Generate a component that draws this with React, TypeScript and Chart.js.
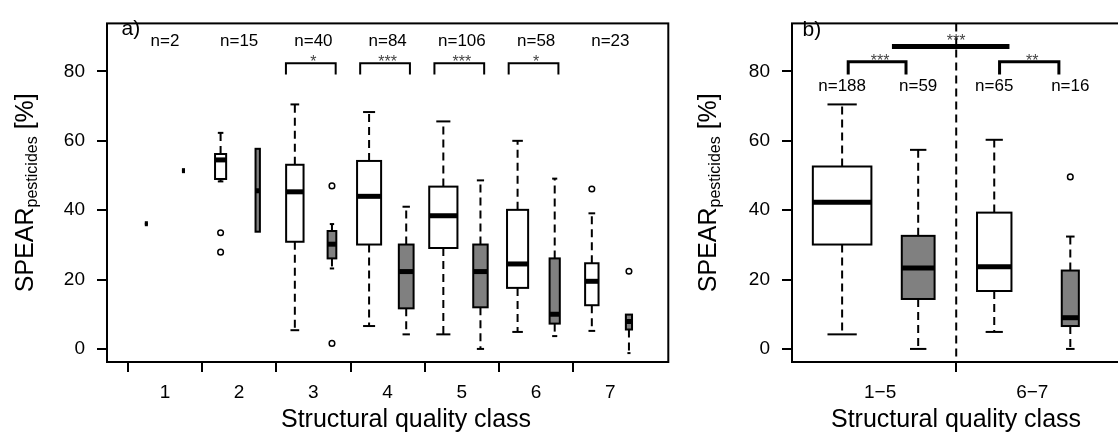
import React, { useEffect, useRef } from 'react';
import { Chart, registerables } from 'chart.js';

Chart.register(...registerables);

const FONT = '"Liberation Sans", Arial, Helvetica, sans-serif';

// ---------- Panel a: by structural quality class ----------
const classLabels = ['1', '2', '3', '4', '5', '6', '7'];
const classCounts = [2, 15, 40, 84, 106, 58, 23];
const classSig = ['', '', '*', '***', '***', '*', ''];

// white boxes (first box of each class)
const whiteLow = [36.1, 48.3, 5.4, 6.6, 4.2, 4.9, 5.2];
const whiteQ1 = [36.1, 49.0, 30.9, 30.1, 29.1, 17.6, 12.6];
const whiteMed = [36.1, 54.5, 45.3, 44.0, 38.4, 24.5, 19.5];
const whiteQ3 = [36.1, 56.2, 53.1, 54.2, 46.8, 40.1, 24.7];
const whiteHigh = [36.1, 62.3, 70.5, 68.3, 65.6, 60.0, 39.1];
const whiteN = [1, 13, 32, 61, 84, 47, 19];
const whiteOut: number[][] = [[], [33.5, 27.9], [], [], [], [], [46.1]];

// gray boxes (second box of each class)
const grayLow = [51.4, 33.8, 23.2, 4.2, 0.0, 3.7, -1.2];
const grayQ1 = [51.4, 33.8, 26.1, 11.7, 12.0, 7.3, 5.6];
const grayMed = [51.4, 45.6, 30.2, 22.3, 22.3, 10.0, 7.9];
const grayQ3 = [51.4, 57.7, 34.0, 30.1, 30.1, 26.1, 9.9];
const grayHigh = [51.4, 57.7, 36.0, 41.0, 48.6, 49.1, 9.9];
const grayN = [1, 2, 8, 23, 22, 11, 4];
const grayOut: number[][] = [[], [], [47.0, 1.6], [], [], [], [22.4]];

// ---------- Panel b: grouped classes ----------
const groupLabels = ['1−5', '6−7'];
const bCounts = [188, 59, 65, 16];
const bLow = [4.2, 0.0, 4.9, 0.0];
const bQ1 = [30.1, 14.4, 16.7, 6.6];
const bMed = [42.3, 23.3, 23.7, 9.0];
const bQ3 = [52.6, 32.6, 39.3, 22.6];
const bHigh = [70.5, 57.4, 60.3, 32.4];
const bOut: number[][] = [[], [], [], [49.6]];
const bSigWithin = ['***', '**'];
const bSigBetween = '***';

const yTicks = [0, 20, 40, 60, 80];
const Y_MIN = -3.77;
const Y_MAX = 93.86;

const WHITE = '#ffffff';
const GRAY = '#808080';

type Box = { pos: number; low: number; q1: number; med: number; q3: number; high: number; n: number; fill: string };

function line(ctx: CanvasRenderingContext2D, x1: number, y1: number, x2: number, y2: number) {
  ctx.beginPath();
  ctx.moveTo(x1, y1);
  ctx.lineTo(x2, y2);
  ctx.stroke();
}

function drawBox(ctx: CanvasRenderingContext2D, xs: any, ys: any, b: Box, wex: number, nMax: number) {
  const xc = xs.getPixelForValue(b.pos);
  const w = wex * Math.sqrt(b.n / nMax);
  const hw = Math.abs(xs.getPixelForValue(b.pos + w / 2) - xc);
  const yLow = ys.getPixelForValue(b.low);
  const yQ1 = ys.getPixelForValue(b.q1);
  const yMed = ys.getPixelForValue(b.med);
  const yQ3 = ys.getPixelForValue(b.q3);
  const yHigh = ys.getPixelForValue(b.high);
  ctx.save();
  ctx.strokeStyle = '#000';
  ctx.lineWidth = 2;
  ctx.lineCap = 'butt';
  ctx.setLineDash([8, 5]);
  if (b.high > b.q3) line(ctx, xc, yQ3, xc, yHigh);
  if (b.low < b.q1) line(ctx, xc, yQ1, xc, yLow);
  ctx.setLineDash([]);
  if (b.high > b.q3) line(ctx, xc - hw / 2, yHigh, xc + hw / 2, yHigh);
  if (b.low < b.q1) line(ctx, xc - hw / 2, yLow, xc + hw / 2, yLow);
  ctx.fillStyle = b.fill;
  ctx.fillRect(xc - hw, yQ3, 2 * hw, yQ1 - yQ3);
  ctx.strokeRect(xc - hw, yQ3, 2 * hw, yQ1 - yQ3);
  ctx.lineWidth = 5;
  line(ctx, xc - hw, yMed, xc + hw, yMed);
  ctx.restore();
}

function drawYTitle(ctx: CanvasRenderingContext2D, baseX: number, centerY: number) {
  ctx.save();
  ctx.fillStyle = '#000';
  ctx.textBaseline = 'alphabetic';
  ctx.textAlign = 'left';
  const big = `25px ${FONT}`;
  const small = `16px ${FONT}`;
  ctx.font = big;
  const w1 = ctx.measureText('SPEAR').width;
  const w3 = ctx.measureText(' [%]').width;
  ctx.font = small;
  const w2 = ctx.measureText('pesticides').width;
  const L = w1 + w2 + w3;
  ctx.translate(baseX, centerY);
  ctx.rotate(-Math.PI / 2);
  ctx.font = big;
  ctx.fillText('SPEAR', -L / 2, 0);
  ctx.font = small;
  ctx.fillText('pesticides', -L / 2 + w1, 4);
  ctx.font = big;
  ctx.fillText(' [%]', -L / 2 + w1 + w2, 0);
  ctx.restore();
}

function bracket(ctx: CanvasRenderingContext2D, xs: any, ys: any, x1: number, x2: number, top: number, bottom: number, lw: number) {
  const px1 = xs.getPixelForValue(x1);
  const px2 = xs.getPixelForValue(x2);
  const pt = ys.getPixelForValue(top);
  const pb = ys.getPixelForValue(bottom);
  ctx.save();
  ctx.strokeStyle = '#000';
  ctx.lineWidth = lw;
  ctx.lineJoin = 'miter';
  ctx.beginPath();
  ctx.moveTo(px1, pb);
  ctx.lineTo(px1, pt);
  ctx.lineTo(px2, pt);
  ctx.lineTo(px2, pb);
  ctx.stroke();
  ctx.restore();
  return pt;
}

function frame(ctx: CanvasRenderingContext2D, area: any) {
  ctx.save();
  ctx.strokeStyle = '#000';
  ctx.lineWidth = 2;
  ctx.strokeRect(area.left, area.top, area.right - area.left, area.bottom - area.top);
  ctx.restore();
}

function text(ctx: CanvasRenderingContext2D, s: string, x: number, y: number, size: number, align: CanvasTextAlign = 'center', color = '#000') {
  ctx.save();
  ctx.font = `${size}px ${FONT}`;
  ctx.fillStyle = color;
  ctx.textAlign = align;
  ctx.textBaseline = 'alphabetic';
  ctx.fillText(s, x, y);
  ctx.restore();
}

const yScaleBase = (width: number) => ({
  min: Y_MIN,
  max: Y_MAX,
  afterBuildTicks: (s: any) => {
    s.ticks = yTicks.map((v) => ({ value: v }));
  },
  afterFit: (s: any) => {
    s.width = width;
  },
  border: { display: false },
  grid: { drawOnChartArea: false, drawTicks: true, tickLength: 10, lineWidth: 2, color: '#000' },
  ticks: { font: { family: FONT, size: 19 }, color: '#000', padding: 12 },
});

function configA(): any {
  const boxes: Box[] = [];
  classLabels.forEach((_, i) => {
    boxes.push({ pos: i + 1 - 0.25, low: whiteLow[i], q1: whiteQ1[i], med: whiteMed[i], q3: whiteQ3[i], high: whiteHigh[i], n: whiteN[i], fill: WHITE });
    boxes.push({ pos: i + 1 + 0.25, low: grayLow[i], q1: grayQ1[i], med: grayMed[i], q3: grayQ3[i], high: grayHigh[i], n: grayN[i], fill: GRAY });
  });
  const nMax = Math.max(...whiteN, ...grayN);
  const outliers: { x: number; y: number }[] = [];
  whiteOut.forEach((arr, i) => arr.forEach((v) => outliers.push({ x: i + 1 - 0.25, y: v })));
  grayOut.forEach((arr, i) => arr.forEach((v) => outliers.push({ x: i + 1 + 0.25, y: v })));
  const xTickVals: number[] = [];
  for (let v = 0.5; v <= 7; v += 0.5) xTickVals.push(v);

  const plugin = {
    id: 'boxA',
    beforeDatasetsDraw(chart: any) {
      const ctx = chart.ctx;
      const xs = chart.scales.x;
      const ys = chart.scales.y;
      boxes.forEach((b) => drawBox(ctx, xs, ys, b, 0.38, nMax));
    },
    afterDatasetsDraw(chart: any) {
      const ctx = chart.ctx;
      const xs = chart.scales.x;
      const ys = chart.scales.y;
      const area = chart.chartArea;
      frame(ctx, area);
      text(ctx, 'a)', area.left + 14.5, 35, 21, 'left');
      classCounts.forEach((n, i) => {
        text(ctx, `n=${n}`, xs.getPixelForValue(i + 1), ys.getPixelForValue(87.4), 17);
      });
      classSig.forEach((s, i) => {
        if (!s) return;
        const pt = bracket(ctx, xs, ys, i + 1 - 0.37, i + 1 + 0.3, 82.4, 79.1, 2);
        text(ctx, s, xs.getPixelForValue(i + 1), pt + 4, 16, 'center', '#444');
      });
      drawYTitle(ctx, 33, (area.top + area.bottom) / 2);
      text(ctx, 'Structural quality class', 406, 427, 25);
    },
  };

  return {
    type: 'scatter',
    data: {
      datasets: [
        {
          data: outliers,
          pointRadius: 2.8,
          pointBorderWidth: 1.5,
          pointBorderColor: '#000',
          pointBackgroundColor: 'rgba(0,0,0,0)',
          showLine: false,
        },
      ],
    },
    options: {
      responsive: false,
      animation: false,
      layout: { padding: { left: 0, top: 12, right: 11.7, bottom: 0 } },
      plugins: { legend: { display: false }, tooltip: { enabled: false } },
      scales: {
        x: {
          type: 'linear',
          min: 0.22,
          max: 7.78,
          afterBuildTicks: (s: any) => {
            s.ticks = xTickVals.map((v) => ({ value: v }));
          },
          afterFit: (s: any) => {
            s.height = 70;
          },
          border: { display: false },
          grid: {
            drawOnChartArea: false,
            drawTicks: true,
            tickLength: 10,
            lineWidth: 2,
            color: (c: any) => (c.tick && Number.isInteger(c.tick.value) ? 'rgba(0,0,0,0)' : '#000'),
          },
          ticks: {
            autoSkip: false,
            maxRotation: 0,
            font: { family: FONT, size: 19 },
            color: '#000',
            padding: 9,
            callback: (v: number) => (Number.isInteger(v) ? classLabels[v - 1] : ''),
          },
        },
        y: yScaleBase(107),
      },
    },
    plugins: [plugin],
  };
}

function configB(): any {
  const boxes: Box[] = bCounts.map((n, i) => ({
    pos: i + 1,
    low: bLow[i],
    q1: bQ1[i],
    med: bMed[i],
    q3: bQ3[i],
    high: bHigh[i],
    n,
    fill: i % 2 === 0 ? WHITE : GRAY,
  }));
  const nMax = Math.max(...bCounts);
  const outliers: { x: number; y: number }[] = [];
  bOut.forEach((arr, i) => arr.forEach((v) => outliers.push({ x: i + 1, y: v })));

  const plugin = {
    id: 'boxB',
    beforeDatasetsDraw(chart: any) {
      const ctx = chart.ctx;
      const xs = chart.scales.x;
      const ys = chart.scales.y;
      const area = chart.chartArea;
      // dashed separator between groups
      ctx.save();
      ctx.strokeStyle = '#000';
      ctx.lineWidth = 2;
      ctx.setLineDash([8, 5]);
      const xm = xs.getPixelForValue(2.5);
      line(ctx, xm, area.top, xm, area.bottom);
      ctx.restore();
      boxes.forEach((b) => drawBox(ctx, xs, ys, b, 0.77, nMax));
    },
    afterDatasetsDraw(chart: any) {
      const ctx = chart.ctx;
      const xs = chart.scales.x;
      const ys = chart.scales.y;
      const area = chart.chartArea;
      frame(ctx, area);
      text(ctx, 'b)', area.left + 10.5, 36, 21, 'left');
      bCounts.forEach((n, i) => {
        text(ctx, `n=${n}`, xs.getPixelForValue(i + 1), ys.getPixelForValue(74.4), 17);
      });
      const p1 = bracket(ctx, xs, ys, 1.08, 1.84, 82.8, 79.1, 3);
      text(ctx, bSigWithin[0], xs.getPixelForValue(1.5), p1 + 4.6, 16, 'center', '#444');
      const p2 = bracket(ctx, xs, ys, 3.07, 3.85, 82.8, 79.1, 3);
      text(ctx, bSigWithin[1], xs.getPixelForValue(3.5), p2 + 4.6, 16, 'center', '#444');
      // thick between-group bar
      ctx.save();
      ctx.strokeStyle = '#000';
      ctx.lineWidth = 5;
      const yb = ys.getPixelForValue(87.2);
      line(ctx, xs.getPixelForValue(1.655), yb, xs.getPixelForValue(3.2), yb);
      ctx.restore();
      text(ctx, bSigBetween, xs.getPixelForValue(2.5), yb - 0.5, 16, 'center', '#444');
      drawYTitle(ctx, 716 - 680, (area.top + area.bottom) / 2);
      text(ctx, 'Structural quality class', 956 - 680, 427, 25);
    },
  };

  return {
    type: 'scatter',
    data: {
      datasets: [
        {
          data: outliers,
          pointRadius: 2.8,
          pointBorderWidth: 1.5,
          pointBorderColor: '#000',
          pointBackgroundColor: 'rgba(0,0,0,0)',
          showLine: false,
        },
      ],
    },
    options: {
      responsive: false,
      animation: false,
      layout: { padding: { left: 0, top: 12, right: 1, bottom: 0 } },
      plugins: { legend: { display: false }, tooltip: { enabled: false } },
      scales: {
        x: {
          type: 'linear',
          min: 0.341,
          max: 4.66,
          afterBuildTicks: (s: any) => {
            s.ticks = [1.5, 2.5, 3.5].map((v) => ({ value: v }));
          },
          afterFit: (s: any) => {
            s.height = 70;
          },
          border: { display: false },
          grid: {
            drawOnChartArea: false,
            drawTicks: true,
            tickLength: 10,
            lineWidth: 2,
            color: (c: any) => (c.tick && c.tick.value === 2.5 ? '#000' : 'rgba(0,0,0,0)'),
          },
          ticks: {
            autoSkip: false,
            maxRotation: 0,
            font: { family: FONT, size: 19 },
            color: '#000',
            padding: 9,
            callback: (v: number) => (v === 1.5 ? groupLabels[0] : v === 3.5 ? groupLabels[1] : ''),
          },
        },
        y: yScaleBase(112),
      },
    },
    plugins: [plugin],
  };
}

export default function App() {
  const aRef = useRef<HTMLCanvasElement>(null);
  const bRef = useRef<HTMLCanvasElement>(null);
  useEffect(() => {
    const ca = new Chart(aRef.current as HTMLCanvasElement, configA());
    const cb = new Chart(bRef.current as HTMLCanvasElement, configB());
    return () => {
      ca.destroy();
      cb.destroy();
    };
  }, []);
  return (
    <div style={{ position: 'fixed', left: 0, top: 0, width: 1118, height: 432, overflow: 'hidden', background: '#fff' }}>
      <canvas ref={aRef} width={680} height={432} style={{ position: 'absolute', left: 0, top: 0, width: 680, height: 432 }} />
      <canvas ref={bRef} width={446} height={432} style={{ position: 'absolute', left: 680, top: 0, width: 446, height: 432 }} />
    </div>
  );
}
